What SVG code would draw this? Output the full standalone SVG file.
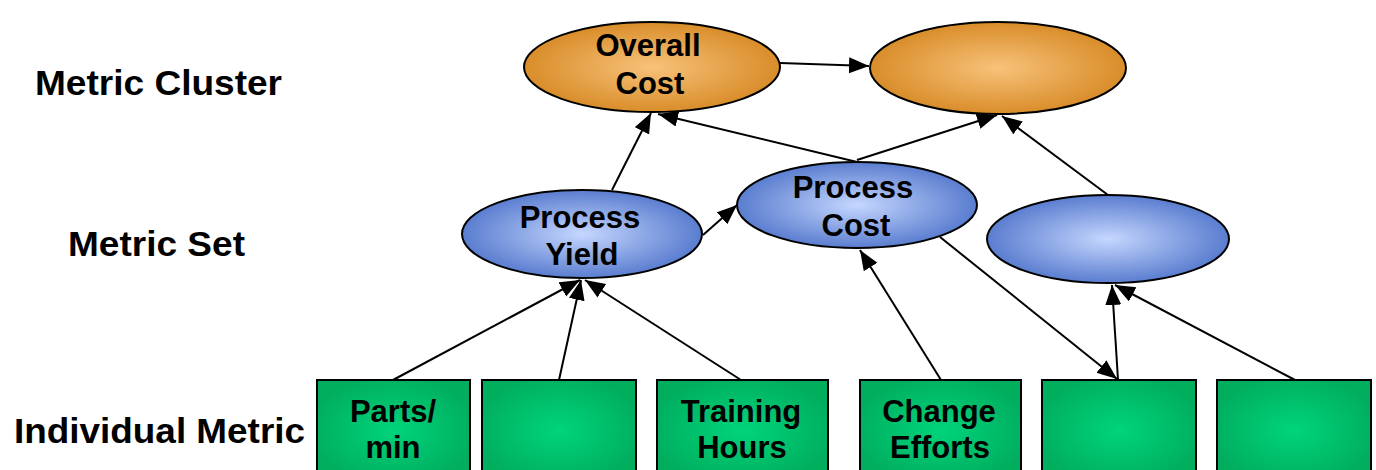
<svg xmlns="http://www.w3.org/2000/svg" width="1376" height="470" viewBox="0 0 1376 470">
<style>
.lbl{font-family:"Liberation Sans",Arial,sans-serif;font-weight:bold;font-size:35px;fill:#000}
.nt{font-family:"Liberation Sans",Arial,sans-serif;font-weight:bold;font-size:31px;fill:#000;text-anchor:middle}
.or{fill:url(#gO);stroke:#000;stroke-width:2}
.bl{fill:url(#gB);stroke:#000;stroke-width:2}
.gr{fill:url(#gG);stroke:#000;stroke-width:2}
.cn line{stroke:#000;stroke-width:2;fill:none}
.cn .a{marker-end:url(#ah)}
</style>
<defs>
<radialGradient id="gO" cx="0.5" cy="0.5" r="0.5">
<stop offset="0" stop-color="#F7C27A"/>
<stop offset="1" stop-color="#D98D2A"/>
</radialGradient>
<radialGradient id="gB" cx="0.5" cy="0.5" r="0.5">
<stop offset="0" stop-color="#C6D7FF"/>
<stop offset="1" stop-color="#5A7DCF"/>
</radialGradient>
<radialGradient id="gG" cx="0.5" cy="0.5" r="0.55">
<stop offset="0" stop-color="#00D47C"/>
<stop offset="1" stop-color="#00AE5E"/>
</radialGradient>
<marker id="ah" markerUnits="userSpaceOnUse" markerWidth="22" markerHeight="18" refX="20" refY="8" orient="auto">
<path d="M0,0 L20,8 L0,16 z" fill="#000"/>
</marker>
</defs>

<text class="lbl" x="35" y="95" textLength="247" lengthAdjust="spacingAndGlyphs">Metric Cluster</text>
<text class="lbl" x="68" y="256" textLength="177" lengthAdjust="spacingAndGlyphs">Metric Set</text>
<text class="lbl" x="14" y="443" textLength="291" lengthAdjust="spacingAndGlyphs">Individual Metric</text>

<g class="cn" id="connectors">
<line class="a" x1="780" y1="63" x2="869" y2="66"/>
<line class="a" x1="612" y1="190" x2="651" y2="113"/>
<line class="a" x1="857" y1="162" x2="658" y2="114"/>
<line class="a" x1="857" y1="160" x2="997" y2="115"/>
<line class="a" x1="1108" y1="195" x2="1002" y2="116"/>
<line class="a" x1="703" y1="235" x2="737" y2="205"/>
<line class="a" x1="393" y1="380" x2="580" y2="280"/>
<line class="a" x1="559" y1="380" x2="581" y2="280"/>
<line class="a" x1="741" y1="380" x2="585" y2="280"/>
<line class="a" x1="941" y1="380" x2="860" y2="250"/>
<line class="a" x1="940" y1="237" x2="1117" y2="379"/>
<line class="a" x1="1118" y1="380" x2="1112" y2="285"/>
<line class="a" x1="1295" y1="380" x2="1115" y2="285"/>
</g>

<g id="overall-cost">
<ellipse class="or" cx="652" cy="67" rx="128" ry="45"/>
<text class="nt" x="648" y="56">Overall</text>
<text class="nt" x="650" y="94">Cost</text>
</g>
<g id="cluster-2">
<ellipse class="or" cx="998" cy="68" rx="128" ry="46"/>
</g>
<g id="process-yield">
<ellipse class="bl" cx="582" cy="234" rx="120" ry="44"/>
<text class="nt" x="580" y="228">Process</text>
<text class="nt" x="582" y="265">Yield</text>
</g>
<g id="process-cost">
<ellipse class="bl" cx="857" cy="205" rx="120" ry="43"/>
<text class="nt" x="853" y="198">Process</text>
<text class="nt" x="856" y="236">Cost</text>
</g>
<g id="set-3">
<ellipse class="bl" cx="1108" cy="239" rx="121" ry="44"/>
</g>

<g id="parts-min">
<rect class="gr" x="317" y="380" width="153" height="100"/>
<text class="nt" x="393" y="422">Parts/</text>
<text class="nt" x="393" y="458">min</text>
</g>
<g id="metric-2">
<rect class="gr" x="482" y="380" width="154" height="100"/>
</g>
<g id="training-hours">
<rect class="gr" x="657" y="380" width="171" height="100"/>
<text class="nt" x="741" y="422">Training</text>
<text class="nt" x="742" y="458">Hours</text>
</g>
<g id="change-efforts">
<rect class="gr" x="860" y="380" width="161" height="100"/>
<text class="nt" x="939" y="422">Change</text>
<text class="nt" x="940" y="458">Efforts</text>
</g>
<g id="metric-5">
<rect class="gr" x="1042" y="380" width="154" height="100"/>
</g>
<g id="metric-6">
<rect class="gr" x="1217" y="380" width="154" height="100"/>
</g>
</svg>
